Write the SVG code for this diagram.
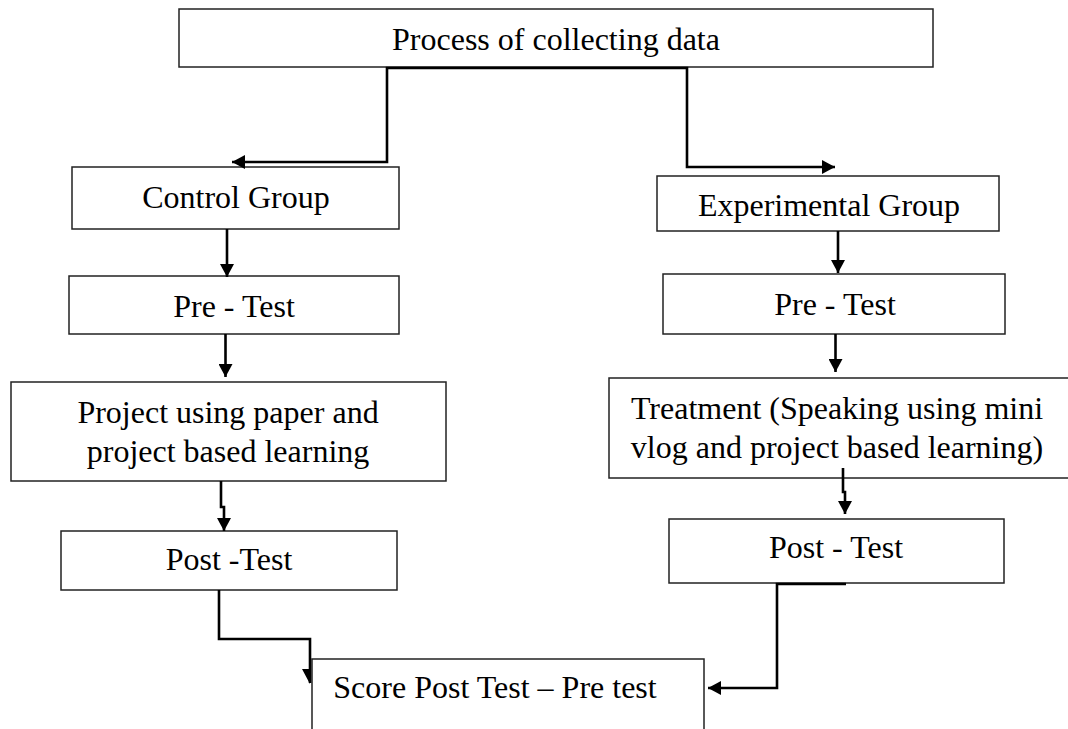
<svg xmlns="http://www.w3.org/2000/svg" width="1068" height="729" viewBox="0 0 1068 729">
<style>
.box{fill:#fff;stroke:#222;stroke-width:1.5}
.t{font-family:"Liberation Serif","Times New Roman",serif;font-size:32px;fill:#000;text-anchor:middle}
.c{fill:none;stroke:#000;stroke-width:2.6}
</style>
<defs>
<marker id="ah" markerUnits="userSpaceOnUse" markerWidth="14" markerHeight="14" refX="13" refY="7" orient="auto">
<path d="M0,0 L13,7 L0,14 z" fill="#000"/>
</marker>
</defs>
<rect width="1068" height="729" fill="#fff"/>
<g id="process"><rect class="box" x="179" y="9" width="754" height="58"/><text class="t" x="556" y="50">Process of collecting data</text></g>
<g id="control"><rect class="box" x="72" y="167" width="327" height="62"/><text class="t" x="236" y="208">Control Group</text></g>
<g id="pretest-c"><rect class="box" x="69" y="276" width="330" height="58"/><text class="t" x="234" y="317">Pre - Test</text></g>
<g id="project"><rect class="box" x="11" y="382" width="435" height="99"/><text class="t" x="228" y="423">Project using paper and</text><text class="t" x="228" y="462">project based learning</text></g>
<g id="posttest-c"><rect class="box" x="61" y="531" width="336" height="59"/><text class="t" x="229" y="570">Post -Test</text></g>
<g id="experimental"><rect class="box" x="657" y="176" width="342" height="55"/><text class="t" x="829" y="216">Experimental Group</text></g>
<g id="pretest-e"><rect class="box" x="663" y="274" width="342" height="60"/><text class="t" x="835" y="315">Pre - Test</text></g>
<g id="treatment"><rect class="box" x="609" y="378" width="470" height="100"/><text class="t" x="837" y="419">Treatment (Speaking using mini</text><text class="t" x="837" y="458">vlog and project based learning)</text></g>
<g id="posttest-e"><rect class="box" x="669" y="519" width="335" height="64"/><text class="t" x="836" y="558">Post - Test</text></g>
<g id="score"><rect class="box" x="312" y="659" width="392" height="90"/><text class="t" x="495" y="698">Score Post Test – Pre test</text></g>
<g id="connectors">
<path class="c" d="M537,68 L387,68 L387,162 L232,162" marker-end="url(#ah)"/>
<path class="c" d="M537,68 L687,68 L687,167 L835,167" marker-end="url(#ah)"/>
<path class="c" d="M227,229 L227,277" marker-end="url(#ah)"/>
<path class="c" d="M225.5,334 L225.5,377" marker-end="url(#ah)"/>
<path class="c" d="M221,481 L221,507 L224,507 L224,531" marker-end="url(#ah)"/>
<path class="c" d="M219,590 L219,639 L310,639 L310,683"/>
<polygon points="302,669 310,669 310,684" fill="#000"/>
<path class="c" d="M838,231 L838,273" marker-end="url(#ah)"/>
<path class="c" d="M835.5,334 L835.5,372" marker-end="url(#ah)"/>
<path class="c" d="M843,468 L843,492 L845,492 L845,514" marker-end="url(#ah)"/>
<path class="c" d="M846,584 L777,584 L777,688 L708,688" marker-end="url(#ah)"/>
</g>
</svg>
